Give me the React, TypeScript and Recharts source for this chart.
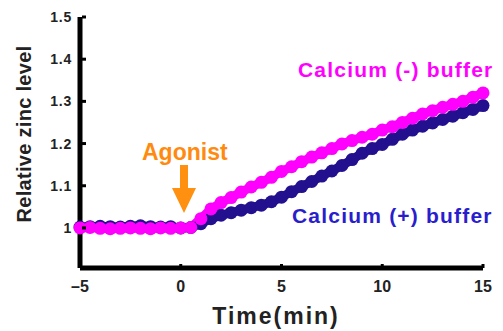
import React from 'react';
import { LineChart, Line, XAxis, YAxis } from 'recharts';

const timeMin = [
  -5, -4.5, -4, -3.5, -3, -2.5, -2, -1.5, -1, -0.5, 0, 0.5, 1, 1.5, 2, 2.5, 3, 3.5, 4, 4.5, 5,
  5.5, 6, 6.5, 7, 7.5, 8, 8.5, 9, 9.5, 10, 10.5, 11, 11.5, 12, 12.5, 13, 13.5, 14, 14.5, 15,
];

const calciumMinus = [
  1.0, 1.001, 0.999, 0.998, 0.999, 1.0, 0.999, 0.998, 1.0, 0.999, 1.0, 1.001, 1.022, 1.045, 1.06,
  1.072, 1.085, 1.097, 1.108, 1.12, 1.134, 1.145, 1.157, 1.168, 1.178, 1.188, 1.199, 1.207, 1.215,
  1.222, 1.232, 1.24, 1.25, 1.26, 1.27, 1.278, 1.286, 1.293, 1.3, 1.31, 1.32,
];

const calciumPlus = [
  1.002, 1.003, 1.004, 1.003, 1.002, 1.004, 1.005, 1.003, 1.002, 1.003, 1.0, 1.001, 1.01, 1.022,
  1.03, 1.036, 1.042, 1.048, 1.054, 1.062, 1.073, 1.086, 1.098, 1.11, 1.123, 1.135, 1.148, 1.162,
  1.177, 1.188, 1.198, 1.21, 1.222, 1.232, 1.241, 1.249, 1.257, 1.265, 1.273, 1.281, 1.29,
];

const xTicks = [-5, 0, 5, 10, 15];
const xTickLabels = ['\u20135', '0', '5', '10', '15'];
const yTicks = [1, 1.1, 1.2, 1.3, 1.4, 1.5];
const yTickLabels = ['1', '1.1', '1.2', '1.3', '1.4', '1.5'];

const data = timeMin.map((t, i) => ({ t, minus: calciumMinus[i], plus: calciumPlus[i] }));

const FONT = '"Liberation Sans", Arial, sans-serif';
const PINK = '#FF00FF';
const NAVY = '#22108F';

const XTick = (props: any) => {
  const { x, y, payload } = props;
  const idx = xTicks.indexOf(payload.value);
  return (
    <g>
      {payload.value !== -5 && (
        <line x1={x} x2={x} y1={y - 13} y2={y - 17} stroke="#000" strokeWidth={3} />
      )}
      <text x={x} y={y} dy="0.71em" textAnchor="middle" fontFamily={FONT} fontWeight="bold" fontSize={16} fill="#222">
        {xTickLabels[idx]}
      </text>
    </g>
  );
};

const YTick = (props: any) => {
  const { x, y, payload } = props;
  const idx = yTicks.findIndex((v) => Math.abs(v - payload.value) < 1e-6);
  return (
    <g>
      <line x1={x + 10} x2={x + 14} y1={y} y2={y} stroke="#000" strokeWidth={3} />
      <text x={x} y={y} dy="0.36em" textAnchor="end" fontFamily={FONT} fontWeight="bold" fontSize={14} letterSpacing={0.8} fill="#222">
        {yTickLabels[idx]}
      </text>
    </g>
  );
};

export default function App() {
  return (
    <div style={{ position: 'absolute', left: 0, top: 0, width: 503, height: 331, background: '#fff' }}>
      <LineChart width={503} height={331} data={data} margin={{ top: 17, right: 20, left: 0, bottom: 0 }}>
        <XAxis
          dataKey="t"
          type="number"
          domain={[-5, 15]}
          ticks={xTicks}
          height={63}
          axisLine={{ stroke: '#000', strokeWidth: 5 }}
          tickLine={false}
          tickSize={0}
          tickMargin={13}
          tick={<XTick />}
        />
        <YAxis
          type="number"
          domain={[0.905, 1.5]}
          ticks={yTicks}
          width={80}
          axisLine={{ stroke: '#000', strokeWidth: 5 }}
          tickLine={false}
          tickSize={0}
          tickMargin={8}
          tick={<YTick />}
        />
        <Line
          dataKey="plus"
          stroke={NAVY}
          strokeWidth={9}
          dot={{ r: 6.5, fill: NAVY, stroke: 'none' }}
          isAnimationActive={false}
        />
        <Line
          dataKey="minus"
          stroke={PINK}
          strokeWidth={9}
          dot={{ r: 6.5, fill: PINK, stroke: 'none' }}
          isAnimationActive={false}
        />
      </LineChart>
      <svg width={503} height={331} style={{ position: 'absolute', left: 0, top: 0, pointerEvents: 'none' }}>
        <text
          transform="translate(31,134) rotate(-90)"
          textAnchor="middle"
          fontFamily={FONT}
          fontWeight="bold"
          fontSize={20}
          letterSpacing={0.3}
          fill="#222"
        >
          Relative zinc level
        </text>
        <text x={276} y={324} textAnchor="middle" fontFamily={FONT} fontWeight="bold" fontSize={23} letterSpacing={2} fill="#222">
          Time(min)
        </text>
        <text x={298} y={77} fontFamily={FONT} fontWeight="bold" fontSize={21} letterSpacing={1.2} fill={PINK}>
          Calcium (-) buffer
        </text>
        <text x={292} y={223} fontFamily={FONT} fontWeight="bold" fontSize={21} letterSpacing={1.2} fill="#2A1ECC">
          Calcium (+) buffer
        </text>
        <text x={142} y={160} fontFamily={FONT} fontWeight="bold" fontSize={23} fill="#FF8A10">
          Agonist
        </text>
        <rect x={180} y={165} width={8} height={24} fill="#FF9010" />
        <polygon points="172,188 196,188 184,213" fill="#FF9010" />
      </svg>
    </div>
  );
}
